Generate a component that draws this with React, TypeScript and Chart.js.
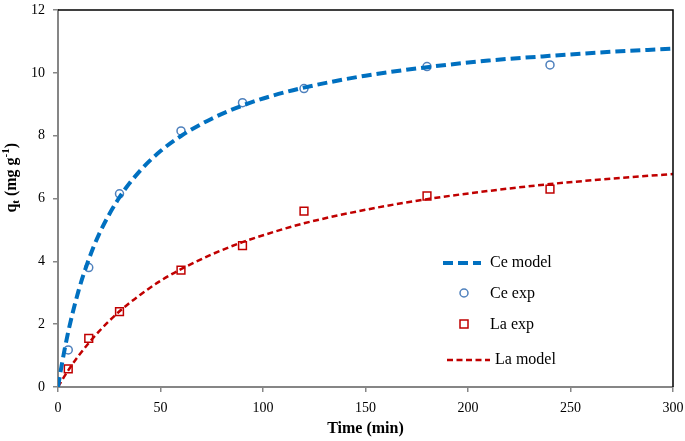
import { useEffect, useRef } from "react";
import { Chart, registerables } from "chart.js";

Chart.register(...registerables);

const modelTimes = [0, 2, 5, 10, 15, 20, 30, 40, 50, 60, 75, 90, 105, 120, 150, 180, 210, 240, 270, 300];
const ceModel = [0, 0.77, 1.76, 3.06, 4.06, 4.86, 6.04, 6.88, 7.51, 7.99, 8.54, 8.96, 9.28, 9.53, 9.91, 10.18, 10.39, 10.54, 10.67, 10.77];
const laModel = [0, 0.22, 0.53, 0.99, 1.4, 1.77, 2.41, 2.93, 3.38, 3.75, 4.22, 4.61, 4.93, 5.21, 5.64, 5.98, 6.24, 6.46, 6.63, 6.78];
const expTimes = [5, 15, 30, 60, 90, 120, 180, 240];
const ceExp = [1.18, 3.8, 6.15, 8.15, 9.05, 9.5, 10.2, 10.25];
const laExp = [0.58, 1.55, 2.4, 3.72, 4.5, 5.6, 6.08, 6.3];
const legendLabels = ["Ce model", "Ce exp", "La exp", "La model"];

const BLUE = "#0070C0";
const BLUE_MARK = "#4F81BD";
const RED = "#C00000";
const AXIS = "#868686";
const FONT = "'Liberation Serif', 'Times New Roman', serif";

const framePlugin = {
  id: "frame",
  afterDatasetsDraw(chart: any) {
    const { ctx, chartArea: a } = chart;
    ctx.save();
    ctx.strokeStyle = "#000";
    ctx.lineWidth = 1.5;
    ctx.beginPath();
    ctx.moveTo(a.left, a.top);
    ctx.lineTo(a.right, a.top);
    ctx.lineTo(a.right, a.bottom);
    ctx.stroke();
    ctx.restore();
  },
};

const yTitlePlugin = {
  id: "ytitle",
  afterDraw(chart: any) {
    const { ctx, chartArea: a } = chart;
    ctx.save();
    const big = `bold 16px ${FONT}`;
    const small = `bold 11px ${FONT}`;
    const parts = [
      { t: "q", f: big, dy: 0 },
      { t: "t", f: small, dy: 4 },
      { t: " (mg g", f: big, dy: 0 },
      { t: "-1", f: small, dy: -6 },
      { t: ")", f: big, dy: 0 },
    ];
    let total = 0;
    for (const p of parts) {
      ctx.font = p.f;
      total += ctx.measureText(p.t).width;
    }
    const cy = a.top + (a.bottom - a.top) * 0.445;
    ctx.translate(12, cy);
    ctx.rotate(-Math.PI / 2);
    ctx.fillStyle = "#000";
    ctx.textBaseline = "middle";
    let x = -total / 2;
    for (const p of parts) {
      ctx.font = p.f;
      ctx.fillText(p.t, x, p.dy);
      x += ctx.measureText(p.t).width;
    }
    ctx.restore();
  },
};

const legendPlugin = {
  id: "customLegend",
  afterDraw(chart: any) {
    const { ctx, chartArea: a } = chart;
    const ox = a.left;
    const oy = a.top;
    ctx.save();
    ctx.font = `16px ${FONT}`;
    ctx.fillStyle = "#000";
    ctx.textBaseline = "middle";
    // Ce model
    ctx.strokeStyle = BLUE;
    ctx.lineWidth = 4;
    ctx.setLineDash([10, 5]);
    ctx.beginPath();
    ctx.moveTo(ox + 385, oy + 253);
    ctx.lineTo(ox + 423, oy + 253);
    ctx.stroke();
    ctx.setLineDash([]);
    ctx.fillText(legendLabels[0], ox + 432, oy + 253);
    // Ce exp
    ctx.strokeStyle = BLUE_MARK;
    ctx.lineWidth = 1.5;
    ctx.beginPath();
    ctx.arc(ox + 406, oy + 283, 4, 0, Math.PI * 2);
    ctx.stroke();
    ctx.fillText(legendLabels[1], ox + 432, oy + 284);
    // La exp
    ctx.strokeStyle = RED;
    ctx.lineWidth = 1.5;
    ctx.strokeRect(ox + 402, oy + 310, 8, 8);
    ctx.fillText(legendLabels[2], ox + 432, oy + 315);
    // La model
    ctx.strokeStyle = RED;
    ctx.lineWidth = 2.5;
    ctx.setLineDash([6, 3.5]);
    ctx.beginPath();
    ctx.moveTo(ox + 389, oy + 350);
    ctx.lineTo(ox + 432, oy + 350);
    ctx.stroke();
    ctx.setLineDash([]);
    ctx.fillText(legendLabels[3], ox + 437, oy + 350);
    ctx.restore();
  },
};

export default function App() {
  const ref = useRef<HTMLCanvasElement | null>(null);

  useEffect(() => {
    if (!ref.current) return;
    const chart = new Chart(ref.current, {
      type: "scatter",
      data: {
        datasets: [
          {
            label: legendLabels[1],
            data: expTimes.map((t, i) => ({ x: t, y: ceExp[i] })),
            pointStyle: "circle",
            pointRadius: 4,
            pointBorderWidth: 1.5,
            pointBorderColor: BLUE_MARK,
            pointBackgroundColor: "rgba(255,255,255,0)",
            showLine: false,
            order: 3,
          },
          {
            label: legendLabels[2],
            data: expTimes.map((t, i) => ({ x: t, y: laExp[i] })),
            pointStyle: "rect",
            pointRadius: 5.5,
            pointBorderWidth: 1.5,
            pointBorderColor: RED,
            pointBackgroundColor: "rgba(255,255,255,0)",
            showLine: false,
            order: 4,
          },
          {
            label: legendLabels[0],
            data: modelTimes.map((t, i) => ({ x: t, y: ceModel[i] })),
            showLine: true,
            borderColor: BLUE,
            borderWidth: 4,
            borderDash: [10, 5],
            pointRadius: 0,
            cubicInterpolationMode: "monotone",
            fill: false,
            order: 1,
          },
          {
            label: legendLabels[3],
            data: modelTimes.map((t, i) => ({ x: t, y: laModel[i] })),
            showLine: true,
            borderColor: RED,
            borderWidth: 2.5,
            borderDash: [6, 3.5],
            pointRadius: 0,
            cubicInterpolationMode: "monotone",
            fill: false,
            order: 2,
          },
        ],
      },
      options: {
        animation: false,
        responsive: false,
        maintainAspectRatio: false,
        layout: { padding: { top: 10, right: 12, left: 0, bottom: 0 } },
        plugins: {
          legend: { display: false },
          tooltip: { enabled: false },
        },
        scales: {
          x: {
            type: "linear",
            min: 0,
            max: 300,
            ticks: { stepSize: 50, color: "#000", font: { family: FONT, size: 14 }, padding: 8, maxRotation: 0 },
            grid: { drawOnChartArea: false, drawTicks: true, tickLength: 5, color: AXIS, lineWidth: 1.5 },
            border: { color: AXIS, width: 2 },
            title: { display: true, text: "Time (min)", color: "#000", font: { family: FONT, size: 16, weight: "bold" }, padding: { top: 4, bottom: 3 } },
            afterFit(scale: any) {
              scale.height = 54;
              scale.paddingLeft = 0;
              scale.paddingRight = 0;
            },
          },
          y: {
            type: "linear",
            min: 0,
            max: 12,
            ticks: { stepSize: 2, color: "#000", font: { family: FONT, size: 14 }, padding: 8 },
            grid: { drawOnChartArea: false, drawTicks: true, tickLength: 5, color: AXIS, lineWidth: 1.5 },
            border: { color: AXIS, width: 2 },
            afterFit(scale: any) {
              scale.width = 58;
              scale.paddingTop = 0;
              scale.paddingBottom = 0;
            },
          },
        },
      },
      plugins: [framePlugin, yTitlePlugin, legendPlugin],
    } as any);
    return () => chart.destroy();
  }, []);

  return (
    <div style={{ position: "fixed", left: 0, top: 0, width: 685, height: 441, background: "#fff" }}>
      <canvas ref={ref} width={685} height={441} style={{ display: "block", width: 685, height: 441 }} />
    </div>
  );
}
